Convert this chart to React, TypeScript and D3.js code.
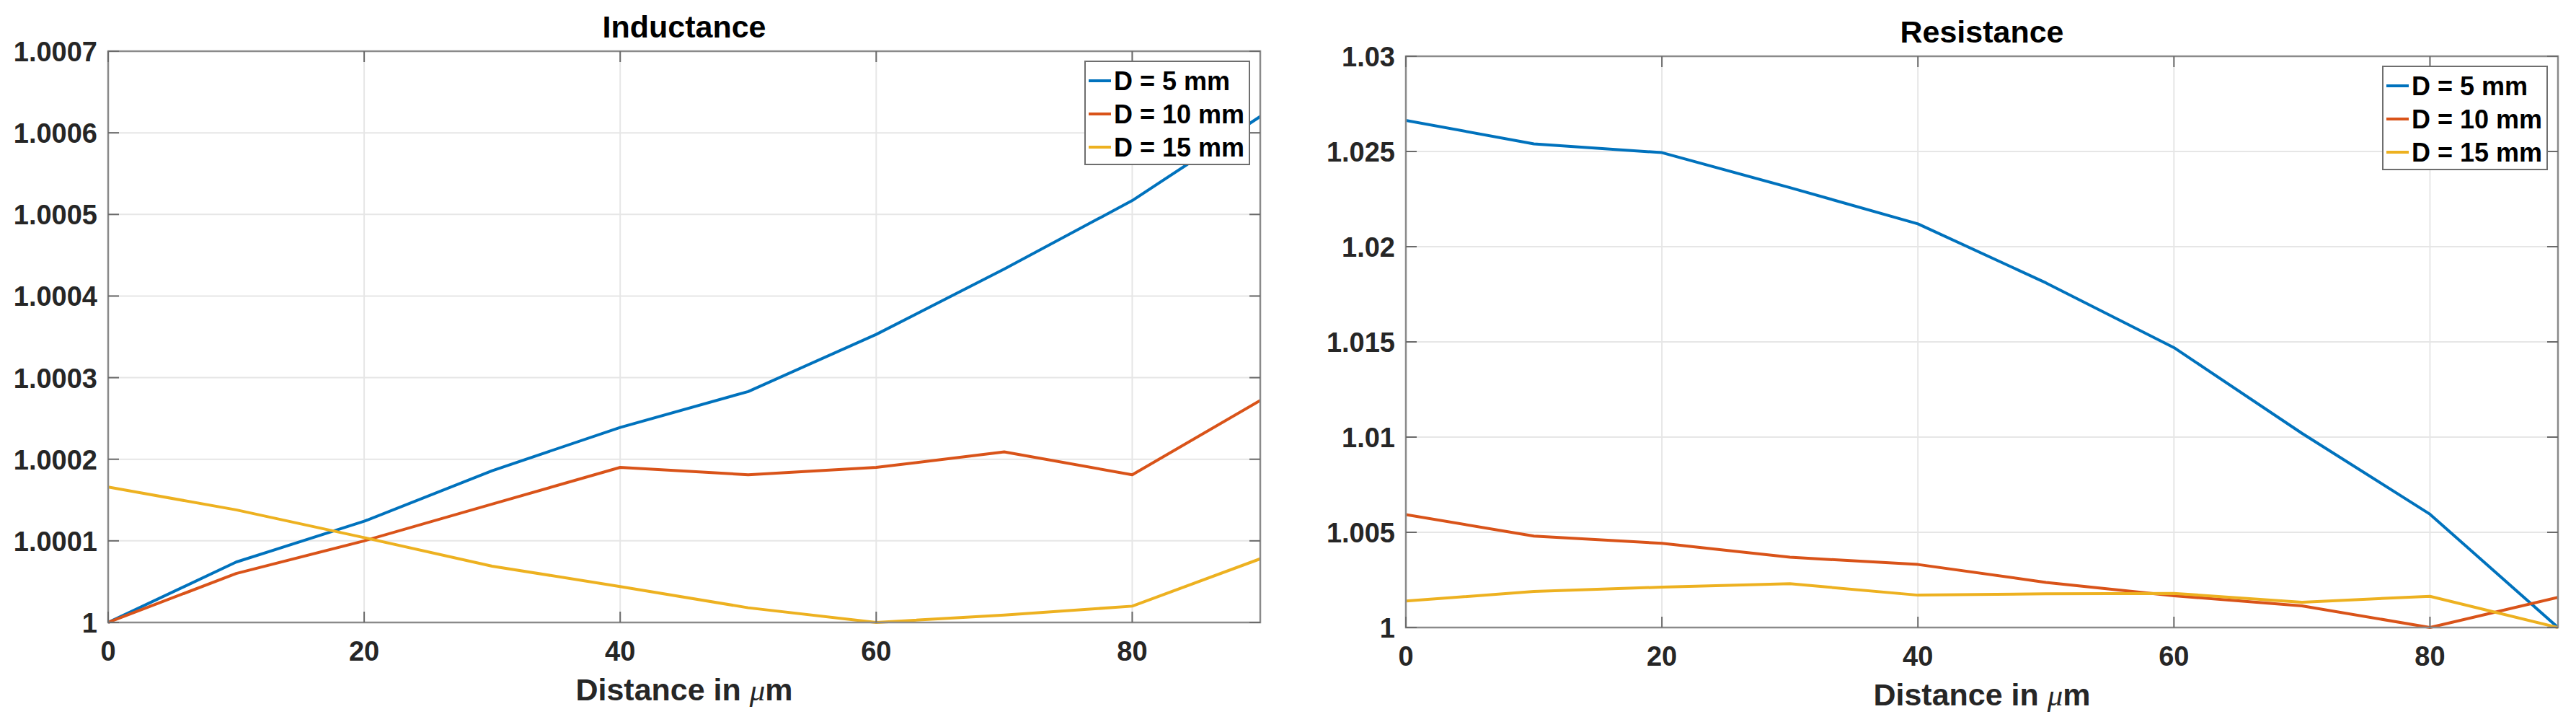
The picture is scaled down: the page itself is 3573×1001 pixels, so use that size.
import React from "react";
import * as d3 from "d3";

const xValues = [0, 10, 20, 30, 40, 50, 60, 70, 80, 90];
const seriesNames = ["D = 5 mm", "D = 10 mm", "D = 15 mm"];
const seriesColors = ["#0072BD", "#D95319", "#EDB120"];

const inductance5 = [1.0, 1.000074, 1.000124, 1.000186, 1.000239, 1.000283, 1.000353, 1.000433, 1.000517, 1.00062];
const inductance10 = [1.0, 1.00006, 1.0001, 1.000145, 1.00019, 1.000181, 1.00019, 1.000209, 1.000181, 1.000272];
const inductance15 = [1.000166, 1.000138, 1.000104, 1.000069, 1.000044, 1.000018, 1.0, 1.000009, 1.00002, 1.000078];

const resistance5 = [1.02663, 1.0254, 1.02494, 1.0231, 1.0212, 1.0181, 1.0147, 1.0102, 1.00595, 1.0];
const resistance10 = [1.00593, 1.0048, 1.00442, 1.00369, 1.00331, 1.00237, 1.00167, 1.00114, 1.0, 1.00158];
const resistance15 = [1.00139, 1.00189, 1.00212, 1.0023, 1.0017, 1.00177, 1.00179, 1.00133, 1.00164, 1.0];

const xTicks = [0, 20, 40, 60, 80];
const inductanceTicks = [1, 1.0001, 1.0002, 1.0003, 1.0004, 1.0005, 1.0006, 1.0007];
const inductanceTickLabels = ["1", "1.0001", "1.0002", "1.0003", "1.0004", "1.0005", "1.0006", "1.0007"];
const resistanceTicks = [1, 1.005, 1.01, 1.015, 1.02, 1.025, 1.03];
const resistanceTickLabels = ["1", "1.005", "1.01", "1.015", "1.02", "1.025", "1.03"];

const FONT = "'Liberation Sans', Arial, Helvetica, sans-serif";

type PanelProps = {
  id: string;
  title: string;
  left: number;
  top: number;
  width: number;
  height: number;
  yDomain: [number, number];
  yTicks: number[];
  yTickLabels: string[];
  series: number[][];
};

function Panel(p: PanelProps) {
  const x = d3.scaleLinear().domain([0, 90]).range([p.left, p.left + p.width]);
  const y = d3.scaleLinear().domain(p.yDomain).range([p.top + p.height, p.top]);
  const line = d3
    .line<number>()
    .x((_, i) => x(xValues[i]))
    .y((v) => y(v));
  const right = p.left + p.width;
  const bottom = p.top + p.height;
  const tickLen = 15;
  const legW = 228;
  const legH = 143;
  const legX = right - 15 - legW;
  const legY = p.top + 14;
  return (
    <g>
      <defs>
        <clipPath id={"clip-" + p.id}>
          <rect x={p.left} y={p.top - 2} width={p.width} height={p.height + 4} />
        </clipPath>
      </defs>
      <rect x={p.left} y={p.top} width={p.width} height={p.height} fill="#ffffff" />
      {xTicks.map((t) => (
        <line key={"gx" + t} x1={x(t)} x2={x(t)} y1={p.top} y2={bottom} stroke="#e6e6e6" strokeWidth={2} />
      ))}
      {p.yTicks.map((t) => (
        <line key={"gy" + t} x1={p.left} x2={right} y1={y(t)} y2={y(t)} stroke="#e6e6e6" strokeWidth={2} />
      ))}
      <g clipPath={`url(#clip-${p.id})`}>
        {p.series.map((s, i) => (
          <path
            key={"s" + i}
            d={line(s) || ""}
            fill="none"
            stroke={seriesColors[i]}
            strokeWidth={4}
            strokeLinejoin="round"
          />
        ))}
      </g>
      <rect x={p.left} y={p.top} width={p.width} height={p.height} fill="none" stroke="#8a8a8a" strokeWidth={2.5} />
      {xTicks.map((t) => (
        <g key={"tx" + t}>
          <line x1={x(t)} x2={x(t)} y1={bottom} y2={bottom - tickLen} stroke="#6a6a6a" strokeWidth={2} />
          <line x1={x(t)} x2={x(t)} y1={p.top} y2={p.top + tickLen} stroke="#6a6a6a" strokeWidth={2} />
          <text
            x={x(t)}
            y={bottom + 53}
            textAnchor="middle"
            fontFamily={FONT}
            fontWeight="bold"
            fontSize={38}
            fill="#262626"
          >
            {String(t)}
          </text>
        </g>
      ))}
      {p.yTicks.map((t, i) => (
        <g key={"ty" + t}>
          <line x1={p.left} x2={p.left + tickLen} y1={y(t)} y2={y(t)} stroke="#6a6a6a" strokeWidth={2} />
          <line x1={right} x2={right - tickLen} y1={y(t)} y2={y(t)} stroke="#6a6a6a" strokeWidth={2} />
          <text
            x={p.left - 15}
            y={y(t) + 14}
            textAnchor="end"
            fontFamily={FONT}
            fontWeight="bold"
            fontSize={38}
            fill="#262626"
          >
            {p.yTickLabels[i]}
          </text>
        </g>
      ))}
      <text
        x={(p.left + right) / 2}
        y={p.top - 19}
        textAnchor="middle"
        fontFamily={FONT}
        fontWeight="bold"
        fontSize={43}
        fill="#000000"
      >
        {p.title}
      </text>
      <text
        x={(p.left + right) / 2}
        y={bottom + 108}
        textAnchor="middle"
        fontFamily={FONT}
        fontWeight="bold"
        fontSize={43}
        fill="#262626"
      >
        {"Distance in "}
        <tspan fontFamily="'Liberation Serif', 'DejaVu Serif', serif" fontStyle="italic" fontWeight="normal">
          {"\u03bc"}
        </tspan>
        {"m"}
      </text>
      <rect x={legX} y={legY} width={legW} height={legH} fill="#ffffff" stroke="#6e6e6e" strokeWidth={2} />
      {seriesNames.map((name, i) => {
        const cy = legY + 27 + i * 46;
        return (
          <g key={"lg" + i}>
            <line x1={legX + 5} x2={legX + 36} y1={cy} y2={cy} stroke={seriesColors[i]} strokeWidth={4} />
            <text x={legX + 40} y={cy + 13} fontFamily={FONT} fontWeight="bold" fontSize={36} fill="#000000">
              {name}
            </text>
          </g>
        );
      })}
    </g>
  );
}

export default function App() {
  return (
    <svg
      width={3573}
      height={1001}
      style={{ position: "absolute", left: 0, top: 0, background: "#ffffff" }}
    >
      <rect x={0} y={0} width={3573} height={1001} fill="#ffffff" />
      <Panel
        id="ind"
        title="Inductance"
        left={150}
        top={71}
        width={1598}
        height={792}
        yDomain={[1, 1.0007]}
        yTicks={inductanceTicks}
        yTickLabels={inductanceTickLabels}
        series={[inductance5, inductance10, inductance15]}
      />
      <Panel
        id="res"
        title="Resistance"
        left={1950}
        top={78}
        width={1598}
        height={792}
        yDomain={[1, 1.03]}
        yTicks={resistanceTicks}
        yTickLabels={resistanceTickLabels}
        series={[resistance5, resistance10, resistance15]}
      />
    </svg>
  );
}
